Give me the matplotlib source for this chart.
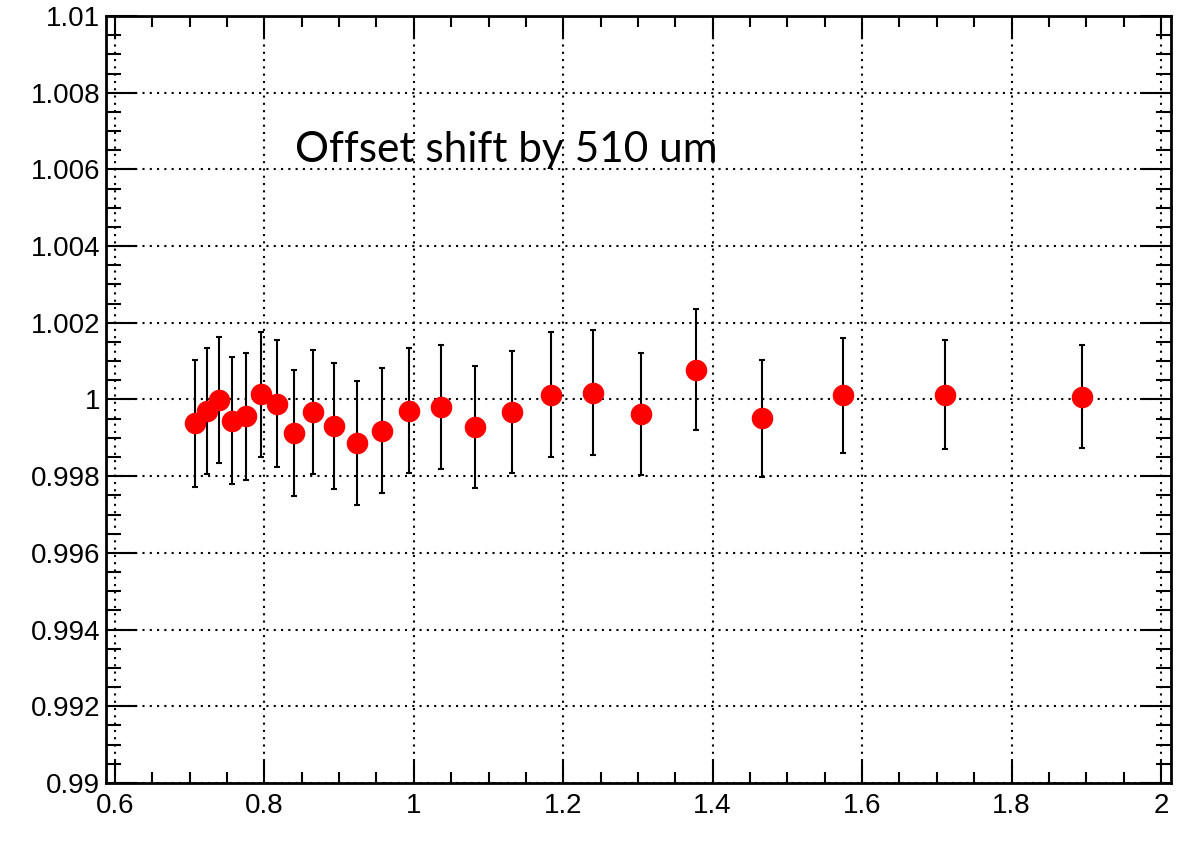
import matplotlib
matplotlib.use('Agg')
import matplotlib.pyplot as plt
from matplotlib.ticker import MultipleLocator
import numpy as np

# data
x_vals = [0.7071, 0.7228, 0.7392, 0.7562, 0.7754, 0.7950, 0.8165, 0.8396,
          0.8651, 0.8928, 0.9240, 0.9570, 0.9940, 1.0357, 1.0815, 1.1311,
          1.1841, 1.2403, 1.3038, 1.3778, 1.4657, 1.5746, 1.7111, 1.8945]
y_vals = [0.99938, 0.99970, 0.99999, 0.99945, 0.99956, 1.00014, 0.99989, 0.99913,
          0.99968, 0.99931, 0.99887, 0.99918, 0.99971, 0.99980, 0.99929, 0.99967,
          1.00013, 1.00018, 0.99962, 1.00078, 0.99951, 1.00011, 1.00013, 1.00007]
y_errs = [0.00165, 0.00164, 0.00164, 0.00165, 0.00166, 0.00163, 0.00165, 0.00164,
          0.00162, 0.00164, 0.00162, 0.00163, 0.00162, 0.00161, 0.00159, 0.00159,
          0.00162, 0.00163, 0.00160, 0.00157, 0.00153, 0.00150, 0.00143, 0.00134]

y_ticks = [0.99, 0.992, 0.994, 0.996, 0.998, 1.0, 1.002, 1.004, 1.006, 1.008, 1.01]
y_tick_labels = ['0.99', '0.992', '0.994', '0.996', '0.998', '1', '1.002',
                 '1.004', '1.006', '1.008', '1.01']
x_ticks = [0.6, 0.8, 1.0, 1.2, 1.4, 1.6, 1.8, 2.0]
x_tick_labels = ['0.6', '0.8', '1', '1.2', '1.4', '1.6', '1.8', '2']

label_text = 'Offset shift by 510 um'

plt.rcParams['font.family'] = ['Liberation Sans', 'DejaVu Sans']

fig = plt.figure(figsize=(11.94, 8.43), dpi=100)
ax = fig.add_axes([0.0888, 0.0712, 0.9807 - 0.0888, 0.981 - 0.0712])

ax.set_xlim(0.588, 2.0134)
ax.set_ylim(0.99, 1.01)

ax.errorbar(x_vals, y_vals, yerr=y_errs, fmt='o', color='red', ms=14.5,
            ecolor='black', elinewidth=1.5, capsize=2.2, capthick=1.5, zorder=3)

ax.set_xticks(x_ticks)
ax.set_xticklabels(x_tick_labels)
ax.set_yticks(y_ticks)
ax.set_yticklabels(y_tick_labels)
ax.xaxis.set_minor_locator(MultipleLocator(0.05))
ax.yaxis.set_minor_locator(MultipleLocator(0.0005))

ax.tick_params(which='both', direction='in', top=True, right=True,
               width=1.5, labelsize=20, colors='black')
ax.tick_params(axis='x', which='major', length=16, pad=7)
ax.tick_params(axis='x', which='minor', length=8)
ax.tick_params(axis='y', which='major', length=22, pad=4)
ax.tick_params(axis='y', which='minor', length=11)

for s in ax.spines.values():
    s.set_linewidth(2)

ax.grid(True, which='major', color='black', linestyle=(0, (1, 2.5)), linewidth=1.5)
ax.set_axisbelow(True)

ax.text(0.841, 1.00619, label_text, fontsize=30.5, family=['Lato', 'DejaVu Sans'],
        va='baseline', ha='left')

fig.savefig('out.png', dpi=100)
